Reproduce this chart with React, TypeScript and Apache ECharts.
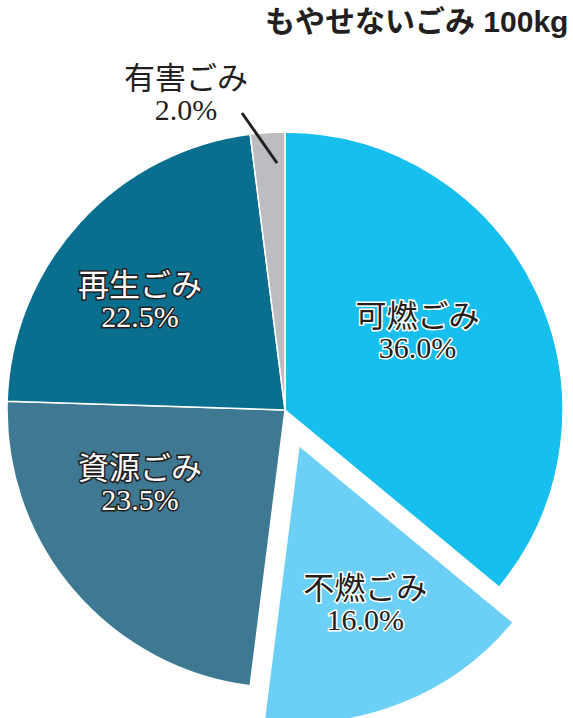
import React, { useEffect, useRef } from "react";
import * as echarts from "echarts";

const categories = ["可燃ごみ", "不燃ごみ", "資源ごみ", "再生ごみ", "有害ごみ"];
const values = [36.0, 16.0, 23.5, 22.5, 2.0];
const colors = ["#17bfef", "#6ccff5", "#3e7892", "#0a6f8e", "#bbbdc0"];
const titleText = "もやせないごみ 100kg";

const CX = 285;
const CY = 410;
const R = 278;

const darkText = {
  color: "#231f20",
  textBorderColor: "#ffffff",
  textBorderWidth: 3,
};
const lightText = {
  color: "#ffffff",
  textBorderColor: "#231f20",
  textBorderWidth: 3,
};
const plainText = {
  color: "#231f20",
  textBorderWidth: 0,
};
const labelStyles = [darkText, darkText, lightText, lightText, plainText];
const labelShift = [
  [4, -18],
  [14, 26],
  [-37, -19],
  [-40, -14],
  [-90, -175],
];

export default function App() {
  const ref = useRef<HTMLDivElement>(null);
  useEffect(() => {
    if (!ref.current) return;
    const chart = echarts.init(ref.current, null, { renderer: "svg" });
    const serif = "'Liberation Serif', 'Noto Sans CJK JP', serif";
    chart.setOption({
      animation: false,
      backgroundColor: "#ffffff",
      graphic: [
        {
          type: "text",
          left: 265,
          top: 6,
          style: {
            text: titleText,
            fontSize: 30,
            fontWeight: "bold",
            fontFamily: "'Liberation Sans', 'Noto Sans CJK JP', sans-serif",
            fill: "#231f20",
          },
        },
        {
          type: "line",
          shape: { x1: CX - 43, y1: CY - 297, x2: CX - 8, y2: CY - 247 },
          style: { stroke: "#231f20", lineWidth: 3 },
          z: 100,
        },
      ],
      series: [
        {
          type: "pie",
          center: [CX, CY],
          radius: [0, R],
          startAngle: 90,
          clockwise: true,
          selectedMode: "single",
          selectedOffset: 38,
          avoidLabelOverlap: false,
          emphasis: { disabled: true },
          itemStyle: { borderColor: "#ffffff", borderWidth: 1.5 },
          labelLine: { show: false },
          labelLayout: (p: any) => ({
            dx: labelShift[p.dataIndex][0],
            dy: labelShift[p.dataIndex][1],
          }),
          data: categories.map((name, i) => ({
            name,
            value: values[i],
            selected: i === 1,
            itemStyle: { color: colors[i] },
            label: {
              show: true,
              position: "inside",
              formatter: (p: any) => `{n|${p.name}}\n{v|${p.value.toFixed(1)}%}`,
              rich: {
                n: {
                  fontSize: 31,
                  lineHeight: 32,
                  fontFamily: serif,
                  ...labelStyles[i],
                },
                v: {
                  fontSize: 30,
                  lineHeight: 30,
                  fontFamily: serif,
                  ...labelStyles[i],
                },
              },
            },
          })),
        },
      ],
    });
    return () => chart.dispose();
  }, []);
  return (
    <div
      ref={ref}
      style={{ position: "fixed", left: 0, top: 0, width: 573, height: 718 }}
    />
  );
}
